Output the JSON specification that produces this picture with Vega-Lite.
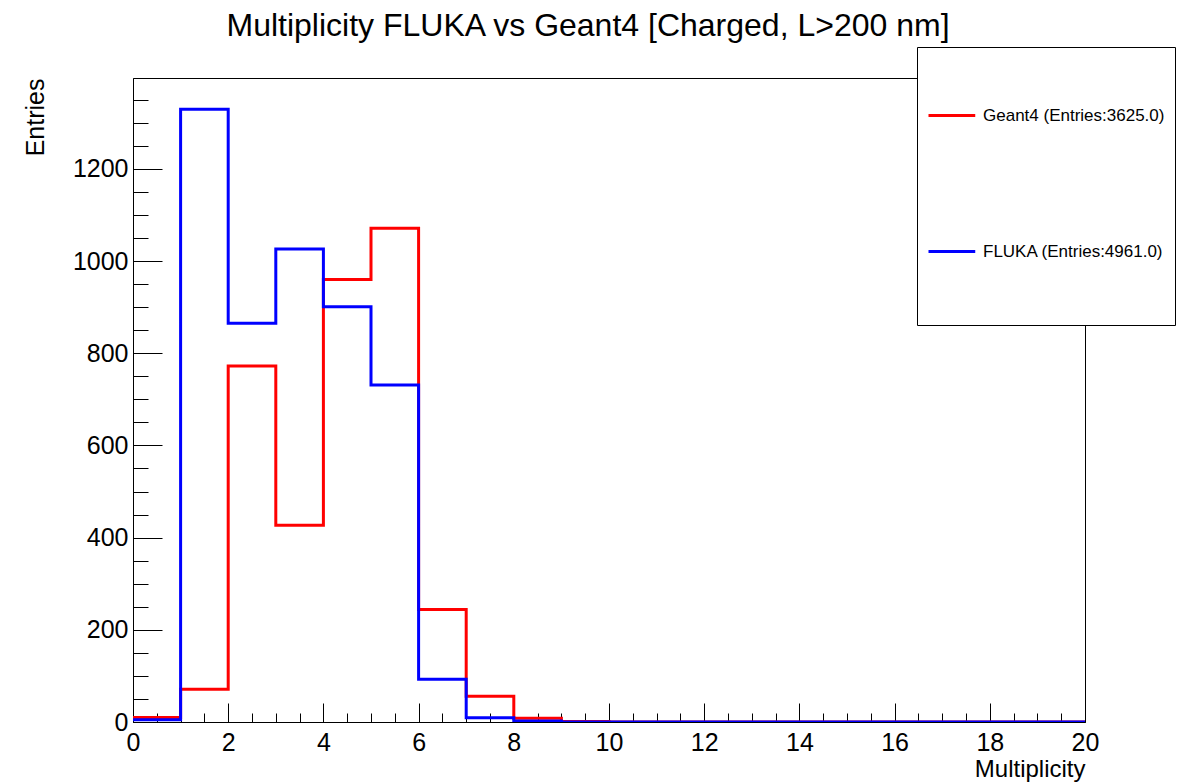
{
  "$schema": "https://vega.github.io/schema/vega-lite/v6.json",
  "autosize": {"type": "none"},
  "width": 952,
  "height": 644,
  "padding": {"left": 133, "top": 78, "right": 104, "bottom": 60},
  "background": "white",
  "title": {
    "text": "Multiplicity FLUKA vs Geant4 [Charged, L>200 nm]",
    "font": "Liberation Sans",
    "fontSize": 32,
    "fontWeight": "normal",
    "color": "black",
    "anchor": "middle",
    "frame": "group",
    "dx": -21
  },
  "datasets": {
    "hist": [
      {"series": "Geant4 (Entries:3625.0)", "bin": 0, "entries": 10},
      {"series": "Geant4 (Entries:3625.0)", "bin": 1, "entries": 71},
      {"series": "Geant4 (Entries:3625.0)", "bin": 2, "entries": 772},
      {"series": "Geant4 (Entries:3625.0)", "bin": 3, "entries": 427},
      {"series": "Geant4 (Entries:3625.0)", "bin": 4, "entries": 960},
      {"series": "Geant4 (Entries:3625.0)", "bin": 5, "entries": 1071},
      {"series": "Geant4 (Entries:3625.0)", "bin": 6, "entries": 244},
      {"series": "Geant4 (Entries:3625.0)", "bin": 7, "entries": 56},
      {"series": "Geant4 (Entries:3625.0)", "bin": 8, "entries": 8},
      {"series": "Geant4 (Entries:3625.0)", "bin": 9, "entries": 1},
      {"series": "Geant4 (Entries:3625.0)", "bin": 10, "entries": 0},
      {"series": "Geant4 (Entries:3625.0)", "bin": 11, "entries": 0},
      {"series": "Geant4 (Entries:3625.0)", "bin": 12, "entries": 0},
      {"series": "Geant4 (Entries:3625.0)", "bin": 13, "entries": 0},
      {"series": "Geant4 (Entries:3625.0)", "bin": 14, "entries": 0},
      {"series": "Geant4 (Entries:3625.0)", "bin": 15, "entries": 0},
      {"series": "Geant4 (Entries:3625.0)", "bin": 16, "entries": 0},
      {"series": "Geant4 (Entries:3625.0)", "bin": 17, "entries": 0},
      {"series": "Geant4 (Entries:3625.0)", "bin": 18, "entries": 0},
      {"series": "Geant4 (Entries:3625.0)", "bin": 19, "entries": 0},
      {"series": "Geant4 (Entries:3625.0)", "bin": 20, "entries": 0},
      {"series": "FLUKA (Entries:4961.0)", "bin": 0, "entries": 5},
      {"series": "FLUKA (Entries:4961.0)", "bin": 1, "entries": 1329},
      {"series": "FLUKA (Entries:4961.0)", "bin": 2, "entries": 865},
      {"series": "FLUKA (Entries:4961.0)", "bin": 3, "entries": 1026},
      {"series": "FLUKA (Entries:4961.0)", "bin": 4, "entries": 901},
      {"series": "FLUKA (Entries:4961.0)", "bin": 5, "entries": 731},
      {"series": "FLUKA (Entries:4961.0)", "bin": 6, "entries": 93},
      {"series": "FLUKA (Entries:4961.0)", "bin": 7, "entries": 9},
      {"series": "FLUKA (Entries:4961.0)", "bin": 8, "entries": 2},
      {"series": "FLUKA (Entries:4961.0)", "bin": 9, "entries": 0},
      {"series": "FLUKA (Entries:4961.0)", "bin": 10, "entries": 0},
      {"series": "FLUKA (Entries:4961.0)", "bin": 11, "entries": 0},
      {"series": "FLUKA (Entries:4961.0)", "bin": 12, "entries": 0},
      {"series": "FLUKA (Entries:4961.0)", "bin": 13, "entries": 0},
      {"series": "FLUKA (Entries:4961.0)", "bin": 14, "entries": 0},
      {"series": "FLUKA (Entries:4961.0)", "bin": 15, "entries": 0},
      {"series": "FLUKA (Entries:4961.0)", "bin": 16, "entries": 0},
      {"series": "FLUKA (Entries:4961.0)", "bin": 17, "entries": 0},
      {"series": "FLUKA (Entries:4961.0)", "bin": 18, "entries": 0},
      {"series": "FLUKA (Entries:4961.0)", "bin": 19, "entries": 0},
      {"series": "FLUKA (Entries:4961.0)", "bin": 20, "entries": 0}
    ]
  },
  "data": {"name": "hist"},
  "layer": [
    {
      "transform": [{"filter": "datum.series === 'Geant4 (Entries:3625.0)'"}],
      "mark": {"type": "line", "interpolate": "step-after", "strokeWidth": 3, "clip": true},
      "encoding": {
        "x": {
          "field": "bin", "type": "quantitative",
          "scale": {"domain": [0, 20], "nice": false, "zero": false},
          "axis": {
            "orient": "bottom",
            "title": "Multiplicity",
            "values": [0, 2, 4, 6, 8, 10, 12, 14, 16, 18, 20],
            "format": "d",
            "ticks": false, "grid": false,
            "labelPadding": 8,
            "labelFontSize": 25, "labelFont": "Liberation Sans", "labelColor": "black",
            "labelFlush": false, "labelOverlap": false,
            "domainColor": "black", "domainWidth": 1,
            "titleFont": "Liberation Sans", "titleFontSize": 24, "titleFontWeight": "normal", "titleColor": "black",
            "titleAnchor": null, "titleAlign": "right", "titleBaseline": "alphabetic",
            "titleX": 952, "titleY": 54
          }
        },
        "y": {
          "field": "entries", "type": "quantitative",
          "scale": {"domain": [0, 1397], "nice": false},
          "axis": {
            "orient": "left",
            "title": "Entries",
            "values": [0, 200, 400, 600, 800, 1000, 1200],
            "format": "d",
            "ticks": false, "grid": false,
            "labelPadding": 5,
            "labelFontSize": 25, "labelFont": "Liberation Sans", "labelColor": "black",
            "labelFlush": false, "labelOverlap": false,
            "domainColor": "black", "domainWidth": 1,
            "titleFont": "Liberation Sans", "titleFontSize": 25, "titleFontWeight": "normal", "titleColor": "black",
            "titleAnchor": null, "titleAngle": -90, "titleAlign": "right", "titleBaseline": "alphabetic",
            "titleX": -90, "titleY": 0
          }
        },
        "color": {
          "field": "series", "type": "nominal",
          "scale": {"domain": ["Geant4 (Entries:3625.0)", "FLUKA (Entries:4961.0)"], "range": ["#ff0000", "#0000ff"]},
          "legend": {
            "orient": "none", "legendX": 784, "legendY": -31,
            "title": null,
            "padding": 10,
            "strokeColor": "black", "fillColor": "white",
            "symbolType": "M0,-1M-1,0H-0.18M0,1",
            "symbolSize": 12996,
            "symbolStrokeWidth": 3,
            "labelFont": "Liberation Sans", "labelFontSize": 17, "labelColor": "black",
            "labelLimit": 400,
            "labelOffset": -61,
            "rowPadding": 9
          }
        }
      }
    },
    {
      "transform": [{"filter": "datum.series === 'FLUKA (Entries:4961.0)'"}],
      "mark": {"type": "line", "interpolate": "step-after", "strokeWidth": 3, "clip": true},
      "encoding": {
        "x": {
          "field": "bin", "type": "quantitative",
          "axis": {
            "orient": "bottom", "title": null, "labels": false, "domain": false, "grid": false,
            "values": [0, 2, 4, 6, 8, 10, 12, 14, 16, 18, 20],
            "ticks": true, "tickSize": -19, "tickColor": "black", "tickWidth": 1
          }
        },
        "y": {
          "field": "entries", "type": "quantitative",
          "axis": {
            "orient": "left", "title": null, "labels": false, "domain": false, "grid": false,
            "values": [0, 200, 400, 600, 800, 1000, 1200],
            "ticks": true, "tickSize": -29, "tickColor": "black", "tickWidth": 1
          }
        },
        "color": {"field": "series", "type": "nominal"}
      }
    },
    {
      "mark": {"type": "line", "opacity": 0, "clip": true},
      "encoding": {
        "detail": {"field": "series"},
        "x": {
          "field": "bin", "type": "quantitative",
          "axis": {
            "orient": "bottom", "title": null, "labels": false, "domain": false, "grid": false,
            "values": [0.5, 1, 1.5, 2.5, 3, 3.5, 4.5, 5, 5.5, 6.5, 7, 7.5, 8.5, 9, 9.5, 10.5, 11, 11.5, 12.5, 13, 13.5, 14.5, 15, 15.5, 16.5, 17, 17.5, 18.5, 19, 19.5],
            "ticks": true, "tickSize": -9, "tickColor": "black", "tickWidth": 1
          }
        },
        "y": {
          "field": "entries", "type": "quantitative",
          "axis": {
            "orient": "left", "title": null, "labels": false, "domain": false, "grid": false,
            "values": [50, 100, 150, 250, 300, 350, 450, 500, 550, 650, 700, 750, 850, 900, 950, 1050, 1100, 1150, 1250, 1300, 1350],
            "ticks": true, "tickSize": -15, "tickColor": "black", "tickWidth": 1
          }
        }
      }
    }
  ],
  "resolve": {"axis": {"x": "independent", "y": "independent"}},
  "config": {
    "view": {"stroke": "black", "strokeWidth": 1},
    "font": "Liberation Sans"
  }
}
